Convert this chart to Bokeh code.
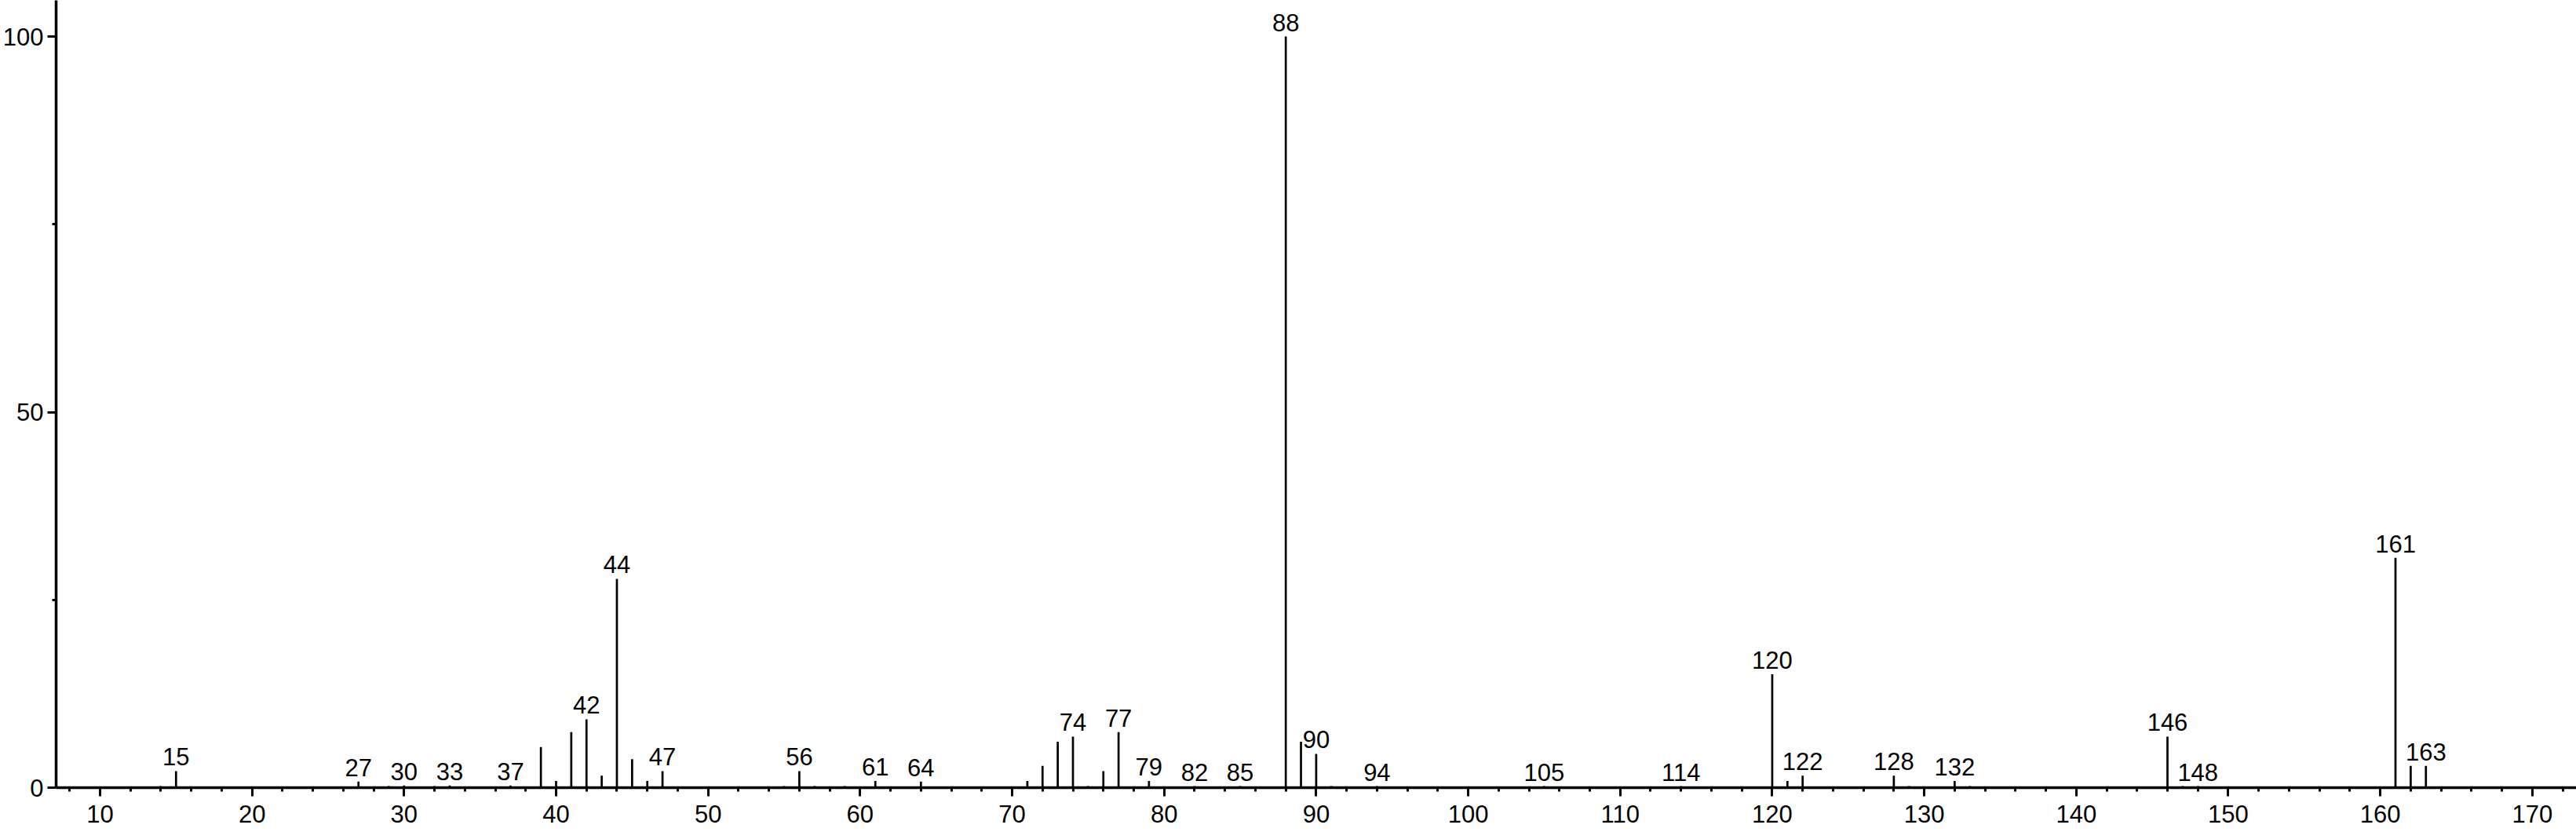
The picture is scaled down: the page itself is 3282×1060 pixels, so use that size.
from bokeh.plotting import figure
from bokeh.models import Range1d, FixedTicker, ColumnDataSource
from bokeh.embed import file_html
from bokeh.resources import INLINE
from bokeh.core.properties import value

# ---- data (m/z, relative intensity %) ----
mz = [14, 15, 27, 29, 30, 32, 33, 37, 39, 40, 41, 42, 43, 44, 45, 46, 47, 49,
      55, 56, 57, 59, 61, 64, 69, 71, 72, 73, 74, 75, 76, 77, 79, 82, 85,
      88, 89, 90, 91, 94, 105, 114, 117, 120, 121, 122, 128, 129, 132, 133,
      146, 147, 148, 161, 162, 163]
intensity = [0.2, 2.2, 0.8, 0.2, 0.3, 0.2, 0.3, 0.3, 5.4, 0.9, 7.4, 9.1, 1.6, 27.8, 3.8, 0.9, 2.2, 0.15,
             0.2, 2.2, 0.2, 0.2, 0.9, 0.8, 0.15, 0.9, 2.9, 6.1, 6.8, 0.2, 2.2, 7.4, 0.9, 0.2, 0.2,
             100.0, 6.1, 4.5, 0.2, 0.2, 0.2, 0.2, 0.15, 15.1, 0.9, 1.6, 1.6, 0.2, 0.9, 0.2,
             6.8, 0.2, 0.2, 30.6, 2.9, 2.9]
labeled_mz = [15, 27, 30, 33, 37, 42, 44, 47, 56, 61, 64, 74, 77, 79, 82, 85,
              88, 90, 94, 105, 114, 120, 122, 128, 132, 146, 148, 161, 163]

x_ticks = list(range(10, 171, 10))
x_minor_ticks = list(range(8, 174, 2))
y_ticks = [0, 50, 100]
y_minor_ticks = [25, 75]

# ---- layout ----
W, H = 3282, 1060
BORDER_L, BORDER_B = 69, 57
PX_PER_X = 19.38
PX_PER_Y = 9.57
X10_PX = 125  # pixel x of m/z 10

x_start = 10 - (X10_PX - BORDER_L) / PX_PER_X
x_end = x_start + (W - BORDER_L) / PX_PER_X
y_end = (H - BORDER_B) / PX_PER_Y

FONT = "Liberation Sans"

p = figure(width=W, height=H, output_backend="svg", toolbar_location=None,
           x_range=Range1d(x_start, x_end), y_range=Range1d(0, y_end),
           min_border_left=BORDER_L, min_border_bottom=BORDER_B,
           min_border_top=0, min_border_right=0)
p.outline_line_color = None
p.grid.visible = False
p.background_fill_color = "white"
p.border_fill_color = "white"

peaks = ColumnDataSource(dict(x=mz, y=intensity, y0=[0] * len(mz)))
p.segment(x0="x", y0="y0", x1="x", y1="y", source=peaks,
          line_color="black", line_width=2.7, line_cap="butt")

lab_y = [intensity[mz.index(m)] for m in labeled_mz]
labels = ColumnDataSource(dict(x=labeled_mz, y=lab_y, t=[str(m) for m in labeled_mz]))
p.text(x="x", y="y", text="t", source=labels,
       text_font=value(FONT), text_font_size="31px", text_color="black",
       text_align="center", text_baseline="bottom", y_offset=-7)

p.xaxis.ticker = FixedTicker(ticks=x_ticks, minor_ticks=x_minor_ticks)
p.yaxis.ticker = FixedTicker(ticks=y_ticks, minor_ticks=y_minor_ticks)

for ax in (p.xaxis, p.yaxis):
    ax.axis_line_color = "black"
    ax.axis_line_width = 3.5
    ax.major_tick_line_color = "black"
    ax.minor_tick_line_color = "black"
    ax.major_tick_line_width = 3
    ax.minor_tick_line_width = 3
    ax.major_tick_in = 0
    ax.major_tick_out = 11
    ax.minor_tick_in = 0
    ax.minor_tick_out = 5
    ax.major_label_text_font = FONT
    ax.major_label_text_font_size = "31px"
    ax.major_label_text_color = "black"
p.xaxis.major_label_standoff = 11
p.yaxis.major_label_standoff = 5

open("out.html", "w").write(file_html(p, INLINE))
